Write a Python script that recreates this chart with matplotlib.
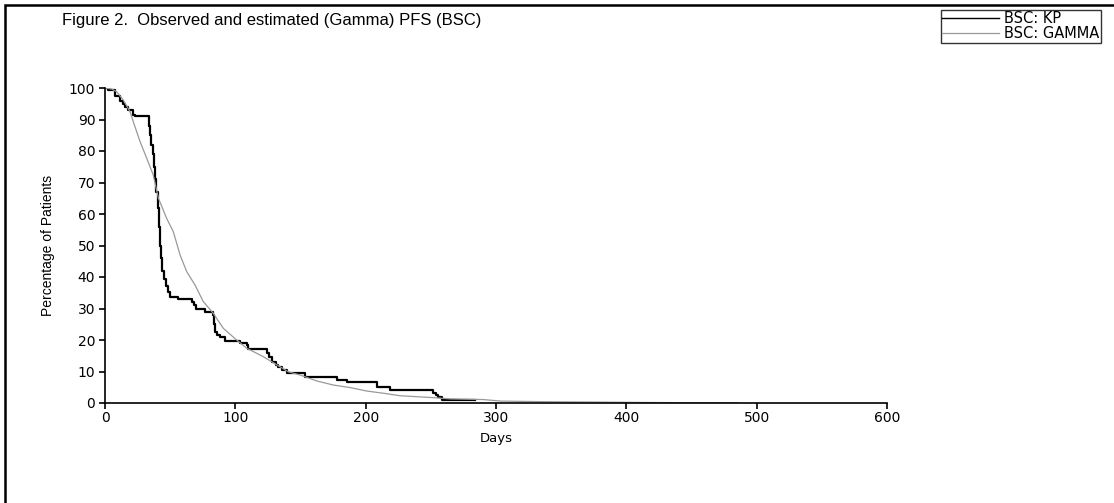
import matplotlib
matplotlib.use("Agg")
import matplotlib.pyplot as plt
from matplotlib.patches import Rectangle

# Kaplan-Meier (observed) PFS, BSC arm - step points (day, %)
kp_days = [0, 2.5, 7.7, 11.5, 13.8, 15, 18, 21.7, 23, 33.5, 34.5, 35.5, 36.5, 37.5, 38.5,
           39.5, 40.5, 41.5, 42.2, 43, 44, 45.5, 47, 48.5, 50, 56, 66.5, 68, 70, 76.5,
           82.6, 83.5, 84.4, 86, 88, 92, 103.6, 108.7, 110, 124, 126, 128, 131, 133, 136,
           139.4, 153.5, 177.8, 185.5, 208.5, 218.7, 252, 254, 255.8, 258.4, 284]
kp_pct = [100, 99.4, 97.5, 96, 95, 94, 93, 91.5, 91.2, 88, 85, 82, 79, 75, 71,
          67, 62, 56, 50, 46, 42, 39.5, 37, 35.3, 33.7, 33, 32, 31, 30, 29,
          28, 25, 22.6, 21.6, 21, 19.8, 19, 18.4, 17.1, 16, 14.5, 13.1, 12.2, 11.5, 10.5,
          9.4, 8.4, 7.3, 6.6, 5.2, 4.1, 3.2, 2.5, 2.0, 1.0, 1.0]

# Gamma-estimated PFS
gam_days = [0, 5, 9, 14, 19.2, 21.7, 26.9, 32, 37, 41, 47.3, 52.4, 57.6, 62.7, 69, 75.4,
            83, 90.8, 101, 108.7, 121.5, 134.3, 140.7, 149.6, 162.5, 175.2, 188, 200.8,
            213.6, 226.4, 252, 264.8, 290, 304, 340, 377, 420, 486]
gam_pct = [100, 99.7, 98.8, 96.2, 92.5, 89.3, 83, 77.7, 72.4, 65, 58.6, 54.4, 47, 41.7, 37.5, 32.2,
           28.5, 23.7, 20, 17.4, 14.7, 11.5, 9.9, 8.9, 7, 5.7, 4.9, 3.8,
           3.1, 2.3, 1.7, 1.3, 1.1, 0.6, 0.4, 0.3, 0.15, 0.05]

fig = plt.figure(figsize=(11.14, 5.03), dpi=100)
ax = fig.add_axes([105 / 1114, 1 - 403 / 503, 782 / 1114, 315 / 503])

kp_line, = ax.plot(kp_days, kp_pct, drawstyle="steps-post", color="black", lw=1.6,
                   label="BSC: KP")
gam_line, = ax.plot(gam_days, gam_pct, color="#999999", lw=0.9, label="BSC: GAMMA")

ax.set_xlim(0, 600)
ax.set_ylim(0, 100)
ax.set_xticks(range(0, 601, 100))
ax.set_yticks(range(0, 101, 10))
for s in ["top", "right"]:
    ax.spines[s].set_visible(False)
for s in ["left", "bottom"]:
    ax.spines[s].set_linewidth(1.2)
ax.tick_params(direction="out", length=4, width=1.2, labelsize=10)
ax.tick_params(axis="x", pad=1.5)
ax.tick_params(axis="y", pad=3)
for lab in ax.get_xticklabels() + ax.get_yticklabels():
    lab.set_family("DejaVu Sans")

ax.set_xlabel("Days", fontsize=9.5, family="DejaVu Sans", labelpad=5)
ax.set_ylabel("Percentage of Patients", fontsize=10,
              family=["Liberation Sans Narrow", "Liberation Sans"], labelpad=10)

fig.text(62 / 1114, 1 - 20 / 503, "Figure 2.  Observed and estimated (Gamma) PFS (BSC)",
         fontsize=12, family="Liberation Sans", va="center", ha="left")

# outer chart frame (extends past right/bottom edge)
fig.patches.append(Rectangle((5 / 1114, -0.1), 1.2, 1 - 5 / 503 + 0.1,
                             transform=fig.transFigure, fill=False, ec="black", lw=1.8))

leg = fig.legend(handles=[kp_line, gam_line], loc="upper left",
                 bbox_to_anchor=(941 / 1114, 1 - 10 / 503),
                 prop={"family": "DejaVu Sans", "size": 10.5},
                 frameon=True, fancybox=False, handlelength=3.9, handletextpad=0.35,
                 borderpad=0.1, labelspacing=0.0, borderaxespad=0)
leg.get_frame().set_edgecolor("black")
leg.get_frame().set_linewidth(1.0)
leg.legend_handles[0].set_linewidth(1.0)

fig.savefig("out.png", dpi=100)
